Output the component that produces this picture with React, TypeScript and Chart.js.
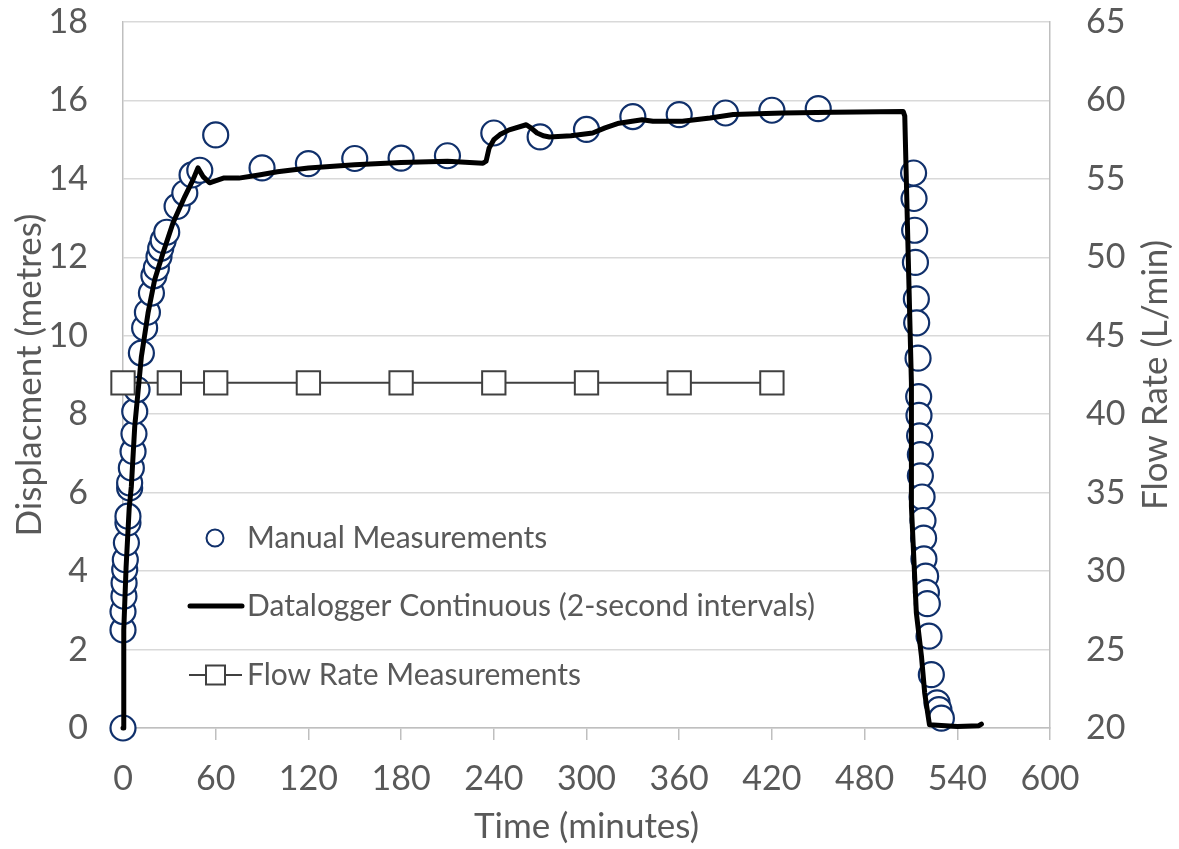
import React, { useEffect, useRef } from "react";
import { Chart, registerables } from "chart.js";

Chart.register(...registerables);

// Manual measurements: time (min) and displacement (m)
const manualTime = [
  0, 0, 0, 0.6, 0.7, 1.1, 1.5, 2.2, 3.2, 3.2, 4.3, 4.3, 5.4, 6.5, 7.1, 7.6, 9.1, 11.9, 14, 15.8,
  18.4, 20, 21.6, 23.3, 24.4, 26, 28.3, 35, 40, 44.7, 49.7, 60, 90, 120, 150, 180, 210, 240, 270,
  300, 330, 360, 390, 420, 450,
  511.7, 512, 512.4, 512.9, 513.5, 513.7, 514.6, 515, 515.2, 515.6, 516.1, 516.1, 517.2, 517.8,
  518.2, 518.4, 519.5, 520, 520.6, 521.7, 523.2, 526.9, 528.1, 529.7,
];
const manualDisp = [
  0, 2.5, 2.97, 3.36, 3.7, 4.04, 4.29, 4.72, 5.23, 5.4, 6.12, 6.25, 6.63, 7.05, 7.5, 8.07, 8.63,
  9.56, 10.2, 10.6, 11.09, 11.53, 11.73, 12.02, 12.23, 12.43, 12.64, 13.3, 13.64, 14.1, 14.22,
  15.12, 14.28, 14.39, 14.52, 14.53, 14.59, 15.17, 15.07, 15.26, 15.59, 15.64, 15.68, 15.75, 15.79,
  14.15, 13.5, 12.69, 11.87, 10.94, 10.33, 9.43, 8.45, 7.97, 7.45, 6.97, 6.43, 5.89, 5.29, 4.84,
  4.31, 3.87, 3.46, 3.17, 2.34, 1.36, 0.64, 0.47, 0.25,
];

// Datalogger continuous record
const loggerTime = [
  0, 0.5, 2, 4, 5.4, 7.6, 11.9, 16.2, 20.5, 25.9, 32.4, 40, 45, 48.5, 52, 56, 65, 75, 88, 100,
  120, 150, 180, 210, 233, 235, 237, 240, 244, 250, 261, 264, 268, 272, 276, 290, 304, 312, 321,
  336, 343, 362, 380, 395, 427, 460, 505, 506, 508, 510.3, 510.3, 513.5, 516.8, 518.9, 522, 540,
  554, 555.6,
];
const loggerDisp = [
  0, 2.5, 4.1, 5.6, 6.16, 7.69, 9.47, 10.58, 11.43, 12.11, 12.88, 13.55, 13.95, 14.28, 14.05, 13.9,
  14.02, 14.02, 14.1, 14.18, 14.28, 14.36, 14.42, 14.45, 14.4, 14.45, 14.79, 15.0, 15.13, 15.25,
  15.38, 15.3, 15.17, 15.1, 15.07, 15.1, 15.17, 15.3, 15.42, 15.51, 15.47, 15.47, 15.55, 15.64,
  15.68, 15.7, 15.72, 15.6, 12.4, 8.8, 5.65, 2.93, 1.83, 0.89, 0.08, 0.04, 0.06, 0.1,
];

// Flow rate measurements
const flowTime = [0, 30, 60, 120, 180, 240, 300, 360, 420];
const flowRate = [42, 42, 42, 42, 42, 42, 42, 42, 42];

const legendLabels = [
  "Manual Measurements",
  "Datalogger Continuous (2-second intervals)",
  "Flow Rate Measurements",
];
const xTitle = "Time (minutes)";
const yTitle = "Displacment (metres)";
const y2Title = "Flow Rate (L/min)";

const FONT = "Lato, 'Open Sans', sans-serif";
const TEXT = "#595959";
const NAVY = "#10306B";

const pts = (xs: number[], ys: number[]) => xs.map((x, i) => ({ x, y: ys[i] }));

const overlay = {
  id: "overlay",
  afterDraw(chart: any) {
    const { ctx, chartArea } = chart;
    ctx.save();
    ctx.fillStyle = TEXT;
    ctx.font = `35px ${FONT}`;
    ctx.textBaseline = "middle";
    // axis titles
    ctx.textAlign = "center";
    ctx.fillText(xTitle, (chartArea.left + chartArea.right) / 2, 827);
    const cy = (chartArea.top + chartArea.bottom) / 2;
    ctx.save();
    ctx.translate(30, cy);
    ctx.rotate(-Math.PI / 2);
    ctx.fillText(yTitle, 0, 0);
    ctx.restore();
    ctx.save();
    ctx.translate(1156, cy);
    ctx.rotate(-Math.PI / 2);
    ctx.fillText(y2Title, 0, 0);
    ctx.restore();

    // legend
    const tx = 247;
    const rows = [538, 606, 675];
    ctx.textAlign = "left";
    ctx.font = `30px ${FONT}`;
    legendLabels.forEach((t, i) => ctx.fillText(t, tx, rows[i]));
    // manual marker
    ctx.beginPath();
    ctx.arc(215, rows[0], 8.5, 0, Math.PI * 2);
    ctx.fillStyle = "#fff";
    ctx.fill();
    ctx.lineWidth = 2;
    ctx.strokeStyle = NAVY;
    ctx.stroke();
    // logger line
    ctx.beginPath();
    ctx.moveTo(190, rows[1]);
    ctx.lineTo(242, rows[1]);
    ctx.lineWidth = 5;
    ctx.lineCap = "round";
    ctx.strokeStyle = "#000";
    ctx.stroke();
    // flow marker
    ctx.beginPath();
    ctx.moveTo(189, rows[2]);
    ctx.lineTo(242, rows[2]);
    ctx.lineWidth = 2;
    ctx.lineCap = "butt";
    ctx.strokeStyle = "#404040";
    ctx.stroke();
    ctx.fillStyle = "#fff";
    ctx.fillRect(206, rows[2] - 9.5, 19, 19);
    ctx.strokeRect(206, rows[2] - 9.5, 19, 19);
    ctx.restore();
  },
};

const fitY = (w: number) => (s: any) => {
  s.width = w;
  s.paddingTop = 0;
  s.paddingBottom = 0;
};

export default function App() {
  const ref = useRef<HTMLCanvasElement | null>(null);
  useEffect(() => {
    if (!ref.current) return;
    const tickFont = { family: FONT, size: 34 };
    const chart = new Chart(ref.current, {
      type: "scatter",
      data: {
        datasets: [
          {
            label: legendLabels[1],
            data: pts(loggerTime, loggerDisp),
            showLine: true,
            borderColor: "#000",
            borderWidth: 5,
            pointRadius: 0,
            borderJoinStyle: "round",
            borderCapStyle: "round",
            tension: 0,
            clip: false,
            yAxisID: "y",
            order: 0,
          } as any,
          {
            label: legendLabels[2],
            data: pts(flowTime, flowRate),
            showLine: true,
            borderColor: "#404040",
            borderWidth: 2,
            pointStyle: "rect",
            pointRadius: 16.5,
            pointBorderWidth: 2,
            pointBackgroundColor: "#fff",
            pointBorderColor: "#404040",
            clip: false,
            yAxisID: "y2",
            order: 1,
          } as any,
          {
            label: legendLabels[0],
            data: pts(manualTime, manualDisp),
            showLine: false,
            pointStyle: "circle",
            pointRadius: 12.5,
            pointBorderWidth: 2.2,
            pointBackgroundColor: "#fff",
            pointBorderColor: NAVY,
            clip: false,
            yAxisID: "y",
            order: 2,
          } as any,
        ],
      },
      options: {
        animation: false,
        responsive: false,
        layout: { padding: { top: 22, left: 0, right: 0, bottom: 0 } },
        plugins: { legend: { display: false }, tooltip: { enabled: false } },
        scales: {
          x: {
            type: "linear",
            min: 0,
            max: 600,
            ticks: { stepSize: 60, color: TEXT, font: tickFont, padding: 19 },
            grid: { drawOnChartArea: false, drawTicks: true, tickLength: 12, color: "#BFBFBF", lineWidth: 1.5 },
            border: { color: "#BFBFBF", width: 1.5 },
            afterFit: (s: any) => {
              s.height = 121;
              s.paddingLeft = 0;
              s.paddingRight = 0;
            },
          },
          y: {
            position: "left",
            min: 0,
            max: 18,
            ticks: { stepSize: 2, color: TEXT, font: tickFont, padding: 35 },
            grid: { color: "#D9D9D9", lineWidth: 1.5, drawTicks: false },
            border: { color: "#BFBFBF", width: 1.5 },
            afterFit: fitY(123),
          },
          y2: {
            position: "right",
            min: 20,
            max: 65,
            ticks: { stepSize: 5, color: TEXT, font: tickFont, padding: 36 },
            grid: { drawOnChartArea: false, drawTicks: false },
            border: { color: "#BFBFBF", width: 1.5 },
            afterFit: fitY(129),
          },
        },
      } as any,
      plugins: [overlay],
    });
    return () => chart.destroy();
  }, []);
  return (
    <div style={{ position: "fixed", left: 0, top: 0, width: 1179, height: 849, background: "#fff" }}>
      <canvas ref={ref} width={1179} height={849} style={{ width: 1179, height: 849 }} />
    </div>
  );
}
